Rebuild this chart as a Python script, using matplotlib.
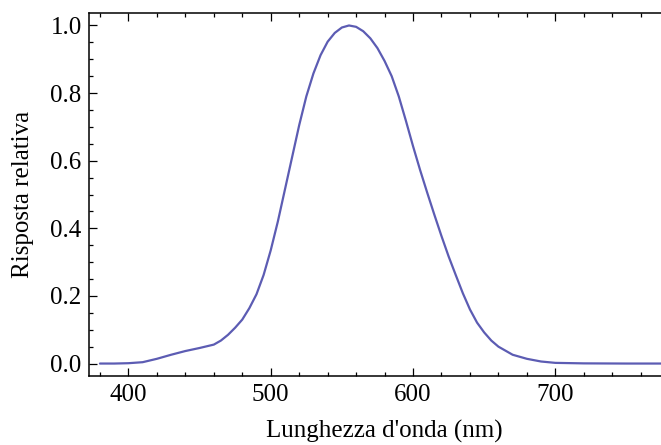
import matplotlib
matplotlib.use("Agg")
import matplotlib.pyplot as plt
from matplotlib.ticker import MultipleLocator, FormatStrFormatter

# wavelength (nm) and relative response
wavelength = [380, 390, 400, 410, 420, 430, 440, 450, 460, 465, 470, 475,
              480, 485, 490, 495, 500, 505, 510, 515, 520, 525, 530, 535,
              540, 545, 550, 555, 560, 565, 570, 575, 580, 585, 590, 595,
              600, 605, 610, 615, 620, 625, 630, 635, 640, 645, 650, 655,
              660, 670, 680, 690, 700, 720, 750, 780]
response = [0.0, 0.0, 0.001, 0.004, 0.014, 0.026, 0.037, 0.046, 0.056, 0.068,
            0.085, 0.106, 0.13, 0.164, 0.205, 0.262, 0.335, 0.42, 0.515, 0.61,
            0.705, 0.79, 0.858, 0.912, 0.952, 0.978, 0.994, 1.0, 0.996, 0.983,
            0.962, 0.933, 0.895, 0.85, 0.79, 0.718, 0.643, 0.572, 0.505, 0.44,
            0.377, 0.317, 0.262, 0.208, 0.16, 0.121, 0.092, 0.068, 0.05,
            0.026, 0.014, 0.006, 0.002, 0.0005, 0.0, 0.0]

xlabel = "Lunghezza d'onda (nm)"
ylabel = "Risposta relativa"

plt.rcParams['font.family'] = ['Liberation Serif', 'DejaVu Serif']

fig = plt.figure(figsize=(6.61, 4.45), dpi=100)
ax = fig.add_axes([0.1340, 0.1557, 0.8956, 0.8144])

ax.plot(wavelength, response, color='#5c5cb3', lw=1.6,
        solid_joinstyle='round', solid_capstyle='round')

ax.set_xlim(372, 788)
ax.set_ylim(-0.036, 1.036)

ax.xaxis.set_major_locator(MultipleLocator(100))
ax.xaxis.set_minor_locator(MultipleLocator(20))
ax.yaxis.set_major_locator(MultipleLocator(0.2))
ax.yaxis.set_minor_locator(MultipleLocator(0.05))
ax.yaxis.set_major_formatter(FormatStrFormatter('%.1f'))

ax.tick_params(which='both', direction='in', top=True, right=False, width=0.9,
               labelsize=18, colors='black')
ax.tick_params(which='major', length=5.5)
ax.tick_params(which='minor', length=3)
ax.tick_params(axis='y', pad=5)
ax.tick_params(axis='x', pad=6)

for sp in ax.spines.values():
    sp.set_linewidth(1.1)
ax.spines['right'].set_visible(False)

ax.set_xlabel(xlabel, fontsize=18, labelpad=10)
ax.set_ylabel(ylabel, fontsize=18, labelpad=12)

fig.savefig("out.png", dpi=100)
